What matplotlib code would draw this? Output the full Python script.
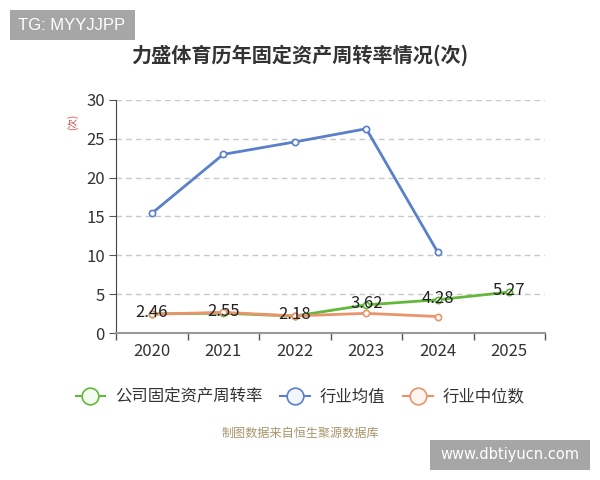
import matplotlib
matplotlib.use("Agg")
import matplotlib.pyplot as plt
from matplotlib.lines import Line2D
from matplotlib.patches import Rectangle

plt.rcParams['font.family'] = ['Noto Sans CJK SC', 'DejaVu Sans']

years = ["2020", "2021", "2022", "2023", "2024", "2025"]
company = [2.46, 2.55, 2.18, 3.62, 4.28, 5.27]
industry_mean = [15.4, 23.0, 24.6, 26.3, 10.4]
industry_median = [2.42, 2.66, 2.2, 2.53, 2.12]
yticks = [0, 5, 10, 15, 20, 25, 30]

c_green = "#62b83a"
c_blue = "#5a7fcb"
c_orange = "#e9946a"

fig = plt.figure(figsize=(6, 4.8), dpi=100)
ax = fig.add_axes([116/600, 1-333/480, (545-116)/600, (333-100)/480])

x_all = list(range(len(years)))
ax.plot(x_all[:len(industry_mean)], industry_mean, color=c_blue, lw=2, marker='o',
        ms=4.5, mfc='white', mec=c_blue, mew=1.2, zorder=3)
ax.plot(x_all[:len(industry_median)], industry_median, color=c_orange, lw=2, marker='o',
        ms=4.5, mfc='white', mec=c_orange, mew=1.2, zorder=4)
ax.plot(x_all, company, color=c_green, lw=2, marker='o',
        ms=4.5, mfc='white', mec=c_green, mew=1.2, zorder=3)
for xi, v in zip(x_all, company):
    ax.text(xi, v + 0.2, f"{v:.2f}", ha='center', va='center', fontsize=12,
            color='#222222', zorder=6)

ax.set_xlim(-0.5, 5.5)
ax.set_ylim(0, 30)
ax.set_yticks(yticks)
ax.set_yticklabels([str(t) for t in yticks])
ax.set_xticks(x_all)
ax.set_xticklabels(years)
ax.set_xticks([i + 0.5 for i in range(-1, 6)], minor=True)
ax.tick_params(axis='x', which='major', length=0, pad=7, labelsize=12, colors='#333333')
ax.tick_params(axis='x', which='minor', length=5, color='#555555', width=1)
ax.tick_params(axis='y', length=5, color='#555555', labelsize=12, labelcolor='#333333', pad=3)
for t in yticks[1:]:
    ax.axhline(t, color='#c8c8c8', lw=1, ls=(0, (4, 3)), zorder=1)
for s in ['top', 'right']:
    ax.spines[s].set_visible(False)
ax.spines['left'].set_color('#444444')
ax.spines['bottom'].set_color('#999999')
ax.spines['bottom'].set_linewidth(1.5)
ax.set_facecolor('none')

fig.text(73/600, 1-122/480, "(次)", rotation=90, color='#d04040', fontsize=7,
         ha='center', va='center')

fig.text(300/600, 1-55/480, "力盛体育历年固定资产周转率情况(次)", ha='center', va='center',
         fontsize=14.5, fontweight='bold', color='#333333')

handles = [
    Line2D([0], [0], color=c_green, lw=1.5, marker='o', ms=12, mfc='#f4fbef', mec=c_green, mew=1.2),
    Line2D([0], [0], color=c_blue, lw=1.5, marker='o', ms=12, mfc='#f3f6fc', mec=c_blue, mew=1.2),
    Line2D([0], [0], color=c_orange, lw=1.5, marker='o', ms=12, mfc='#fdf5f0', mec=c_orange, mew=1.2),
]
fig.legend(handles, ["公司固定资产周转率", "行业均值", "行业中位数"], loc='center',
           bbox_to_anchor=(300/600, 1-397/480), ncol=3, frameon=False, fontsize=11.8,
           handlelength=1.8, columnspacing=1.1, handletextpad=0.6, labelcolor='#333333')

fig.text(300/600, 1-433/480, "制图数据来自恒生聚源数据库", ha='center', va='center',
         fontsize=8.7, color='#a8956a')

fig.patches.append(Rectangle((10/600, 1-40/480), 125/600, 30/480, transform=fig.transFigure,
                             facecolor='#a6a6a6', edgecolor='none'))
fig.text(72/600, 1-25/480, "TG: MYYJJPP", ha='center', va='center', fontsize=12,
         color='white', family='Liberation Sans')
fig.patches.append(Rectangle((430/600, 1-470/480), 160/600, 30/480, transform=fig.transFigure,
                             facecolor='#a6a6a6', edgecolor='none'))
fig.text(510/600, 1-455/480, "www.dbtiyucn.com", ha='center', va='center', fontsize=10.5,
         color='white', family='DejaVu Sans')

fig.savefig("out.png", dpi=100)
